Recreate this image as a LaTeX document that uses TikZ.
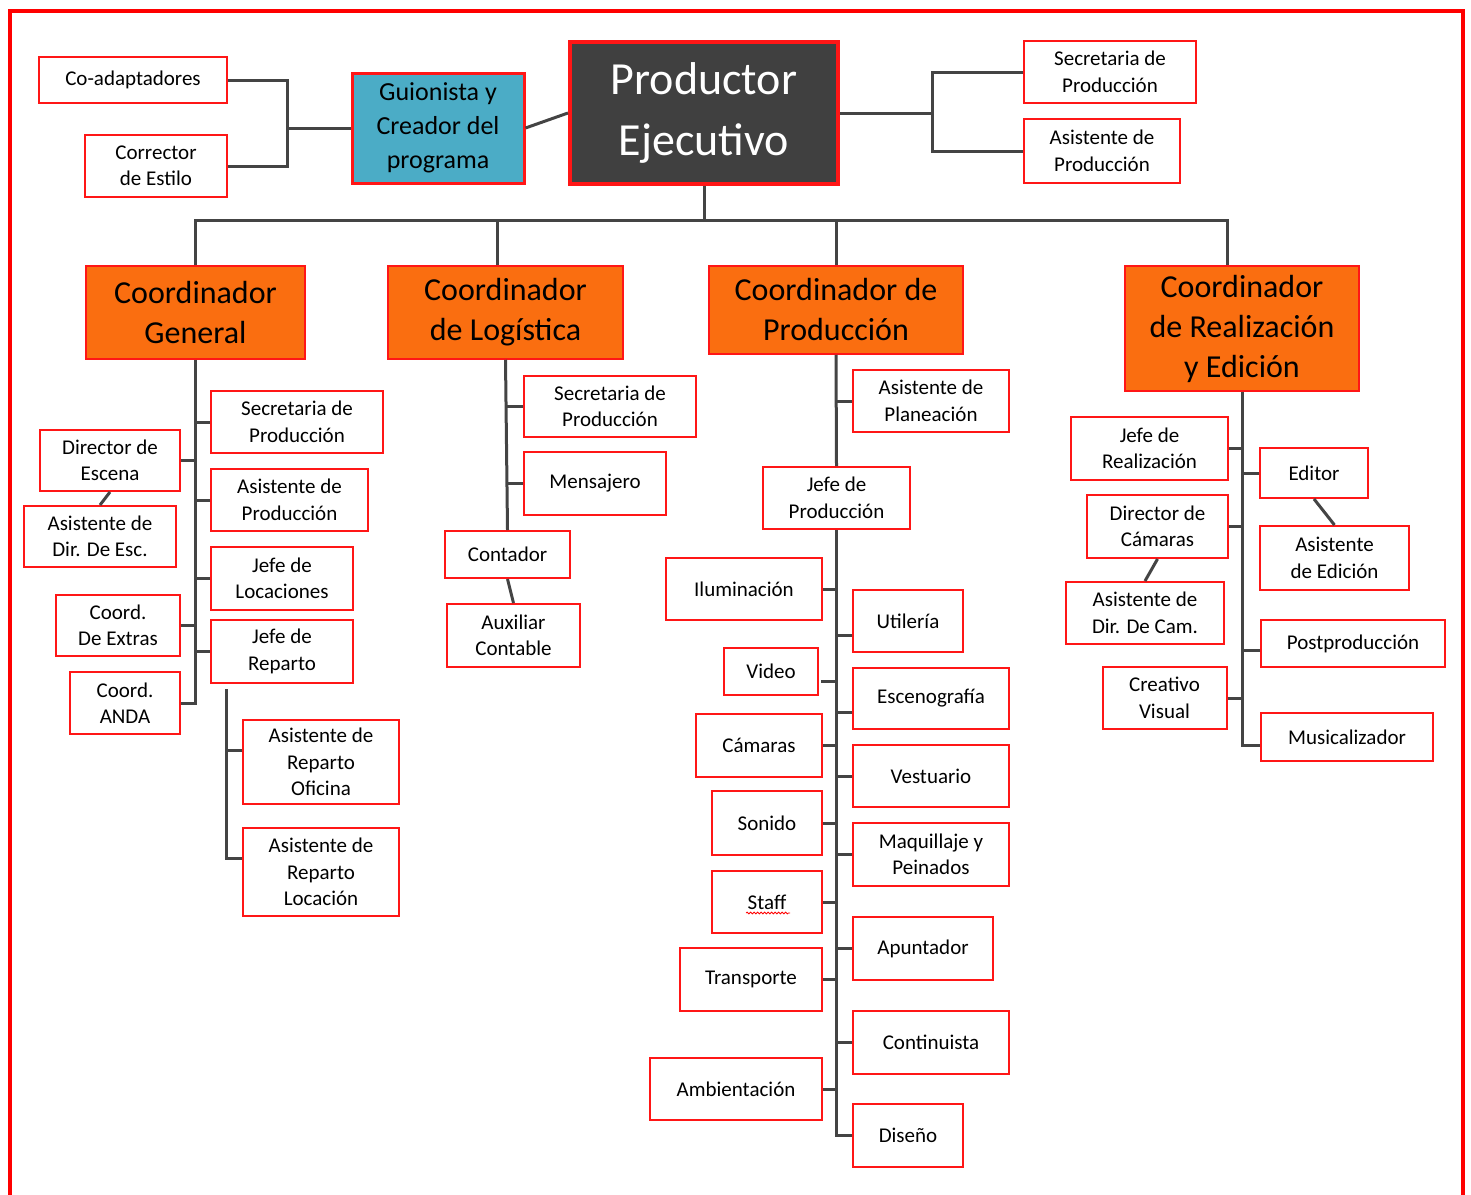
\documentclass[tikz,border=0pt]{standalone}
\usepackage{fontspec}
\setmainfont{Carlito}
\usepackage{xcolor}
\usetikzlibrary{calc}
\usetikzlibrary{decorations.pathmorphing}

\definecolor{boxred}{RGB}{255,22,22}
\definecolor{coordorange}{RGB}{250,110,16}
\definecolor{guiteal}{RGB}{75,172,198}
\definecolor{prodgray}{RGB}{64,64,64}
\definecolor{linkgray}{RGB}{68,68,68}

\tikzset{
  box/.style={draw=boxred, line width=2pt, fill=white, align=center, inner sep=0pt,
    font=\fontsize{21}{26.5}\selectfont},
  coordbox/.style={draw=boxred, line width=1.5pt, fill=coordorange, align=center, inner sep=0pt,
    font=\fontsize{32}{40}\selectfont},
  guibox/.style={draw=boxred, line width=3pt, fill=guiteal, align=center, inner sep=0pt,
    font=\fontsize{26}{34}\selectfont},
  prodbox/.style={draw=boxred, line width=4pt, fill=prodgray, text=white, align=center, inner sep=0pt,
    font=\fontsize{46}{61}\selectfont},
  link/.style={draw=linkgray, line width=3pt},
}

\begin{document}
\begin{tikzpicture}[x=1pt,y=1pt,yscale=-1,xscale=1]
\useasboundingbox (0,0) rectangle (1471,1194);

% Top row
\node[box, minimum width=188, minimum height=46] (coad) at (133,80) {Co-adaptadores};
\node[box, minimum width=142, minimum height=62] (corr) at (156,166) {Corrector\\de Estilo};
\node[guibox, minimum width=172, minimum height=110] (gui) at (438,128) {Guionista y\\Creador del\\programa};
\node[prodbox, minimum width=268, minimum height=142] (pe) at (704,113) {Productor\\Ejecutivo};
\node[box, minimum width=172, minimum height=62] (spt) at (1110,72) {Secretaria de\\Producción};
\node[box, minimum width=156, minimum height=64] (apt) at (1102,151) {Asistente de\\Producción};

% Coordinadores
\node[coordbox, minimum width=219, minimum height=93] (cg) at (195.5,312.5) {Coordinador\\General};
\node[coordbox, minimum width=235, minimum height=93] (cl) at (505.5,312.5) {Coordinador\\de Logística};
\node[coordbox, minimum width=254, minimum height=88] (cp) at (836,310) {Coordinador de\\Producción};
\node[coordbox, minimum width=234, minimum height=125] (cr) at (1242,328.5) {Coordinador\\de Realización\\y Edición};

% Coordinador General
\node[box, minimum width=172, minimum height=62] (g1) at (297,422) {Secretaria de\\Producción};
\node[box, minimum width=157, minimum height=62] (g2) at (289.5,500) {Asistente de\\Producción};
\node[box, minimum width=142, minimum height=63] (g3) at (282,578.5) {Jefe de\\Locaciones};
\node[box, minimum width=142, minimum height=63] (g4) at (282,651.5) {Jefe de\\Reparto};
\node[box, minimum width=140, minimum height=61] (g5) at (110,460.5) {Director de\\Escena};
\node[box, minimum width=152, minimum height=61] (g6) at (100,536.5) {Asistente de\\Dir. De Esc.};
\node[box, minimum width=124, minimum height=61] (g7) at (118,625.5) {Coord.\\De Extras};
\node[box, minimum width=110, minimum height=62] (g8) at (125,703) {Coord.\\ANDA};
\node[box, minimum width=156, minimum height=84] (g9) at (321,762) {Asistente de\\Reparto\\Oficina};
\node[box, minimum width=156, minimum height=88] (g10) at (321,872) {Asistente de\\Reparto\\Locación};

% Coordinador de Logistica
\node[box, minimum width=172, minimum height=61] (l1) at (610,406.5) {Secretaria de\\Producción};
\node[box, minimum width=142, minimum height=63] (l2) at (595,483.5) {Mensajero};
\node[box, minimum width=125, minimum height=47] (l3) at (507.5,554.5) {Contador};
\node[box, minimum width=133, minimum height=63] (l4) at (513.5,635.5) {Auxiliar\\Contable};

% Coordinador de Produccion
\node[box, minimum width=156, minimum height=62] (p1) at (931,401) {Asistente de\\Planeación};
\node[box, minimum width=147, minimum height=62] (p2) at (836.5,498) {Jefe de\\Producción};
\node[box, minimum width=156, minimum height=62] (p3) at (744,589) {Iluminación};
\node[box, minimum width=94, minimum height=47] (p4) at (771,671.5) {Video};
\node[box, minimum width=126, minimum height=63] (p5) at (759,745.5) {Cámaras};
\node[box, minimum width=110, minimum height=64] (p6) at (767,823) {Sonido};
\node[box, minimum width=110, minimum height=62] (p7) at (767,902) {Staff};
\node[box, minimum width=142, minimum height=63] (p8) at (751,979.5) {Transporte};
\node[box, minimum width=172, minimum height=62] (p9) at (736,1089) {Ambientación};
\node[box, minimum width=110, minimum height=62] (p10) at (908,621) {Utilería};
\node[box, minimum width=156, minimum height=61] (p11) at (931,698.5) {Escenografía};
\node[box, minimum width=156, minimum height=62] (p12) at (931,776) {Vestuario};
\node[box, minimum width=156, minimum height=63] (p13) at (931,854.5) {Maquillaje y\\Peinados};
\node[box, minimum width=140, minimum height=63] (p14) at (923,948.5) {Apuntador};
\node[box, minimum width=156, minimum height=63] (p15) at (931,1042.5) {Continuista};
\node[box, minimum width=110, minimum height=63] (p16) at (908,1135.5) {Diseño};

% Coordinador de Realizacion y Edicion
\node[box, minimum width=157, minimum height=63] (r1) at (1149.5,448.5) {Jefe de\\Realización};
\node[box, minimum width=141, minimum height=63] (r2) at (1157.5,526.5) {Director de\\Cámaras};
\node[box, minimum width=158, minimum height=62] (r3) at (1145,613) {Asistente de\\Dir. De Cam.};
\node[box, minimum width=124, minimum height=62] (r4) at (1164.5,698) {Creativo\\Visual};
\node[box, minimum width=108, minimum height=50] (r5) at (1314,473) {Editor};
\node[box, minimum width=149, minimum height=64] (r6) at (1334.5,558) {Asistente\\de Edición};
\node[box, minimum width=184, minimum height=47] (r7) at (1353,643.5) {Postproducción};
\node[box, minimum width=172, minimum height=48] (r8) at (1347,737) {Musicalizador};

% spell check mark
\draw[red, line width=0.8pt, decorate, decoration={snake, amplitude=0.9pt, segment length=3.5pt}]
  ($(p7.center)+(-21,11)$) -- ($(p7.center)+(23,11)$);

% Connectors, top
\coordinate (ja) at ($(gui.west)+(-63,0)$);
\draw[link] (coad.east) -| (ja) |- (corr.east);
\draw[link] (ja) -- (gui.west);
\draw[link] (gui.east) -- (pe.west);
\coordinate (jr) at ($(pe.east)+(92,0)$);
\draw[link] (pe.east) -- (jr);
\draw[link] (spt.west) -| (jr) |- (apt.west);
\coordinate (bus) at ($(pe.south)+(0,34)$);
\coordinate (dl) at ($(cl.north)+(-8,0)$);
\coordinate (dr) at ($(cr.north)+(-15,0)$);
\draw[link] (pe.south) -- (bus);
\draw[link] (cg.north) |- (bus) -| (dr);
\draw[link] (dl) -- (dl |- bus);
\draw[link] (cp.north) -- (cp.north |- bus);

% Connectors, General
\draw[link] (cg.south) |- (g8.east);
\foreach \n in {g1,g2,g3,g4}
  \draw[link] (\n.west) -- (\n.west -| cg.south);
\foreach \n in {g5,g7}
  \draw[link] (\n.east) -- (\n.east -| cg.south);
\draw[link] (g5.south) -- (g6.north);
\coordinate (rp) at ($(g4.south west)+(16,5)$);
\coordinate (o9) at ($(g9.west)+(0,-12)$);
\coordinate (o10) at ($(g10.west)+(0,-14)$);
\draw[link] (rp) |- (o10);
\draw[link] (o9) -- (o9 -| rp);

% Connectors, Logistica
\draw[link] (cl.south) -- (l3.north);
\foreach \n in {l1,l2}
  \draw[link] (\n.west) -- (\n.west -| cl.south);
\draw[link] (l3.south) -- (l4.north);

% Connectors, Produccion
\draw[link] (cp.south) -- (p2.north);
\draw[link] (p1.west) -- (p1.west -| cp.south);
\draw[link] (p2.south) |- (p16.west);
\foreach \n in {p3,p5,p6,p7,p8,p9}
  \draw[link] (\n.east) -- (\n.east -| p2.south);
\foreach \n in {p12,p13,p14,p15}
  \draw[link] (\n.west) -- (\n.west -| p2.south);
\coordinate (o4) at ($(p4.east)+(2,10)$);
\coordinate (o10p) at ($(p10.west)+(0,14)$);
\coordinate (o11) at ($(p11.west)+(0,14)$);
\draw[link] (o4) -- (o4 -| p2.south);
\draw[link] (o10p) -- (o10p -| p2.south);
\draw[link] (o11) -- (o11 -| p2.south);

% Connectors, Realizacion
\coordinate (o8) at ($(r8.west)+(0,8)$);
\coordinate (o7) at ($(r7.west)+(0,7)$);
\draw[link] (cr.south) |- (o8);
\foreach \n in {r1,r2,r4}
  \draw[link] (\n.east) -- (\n.east -| cr.south);
\draw[link] (r5.west) -- (r5.west -| cr.south);
\draw[link] (o7) -- (o7 -| cr.south);
\draw[link] (r2.south) -- (r3.north);
\draw[link] (r5.south) -- (r6.north);

% Outer frame
\draw[red, line width=4pt] (9.5,1215) -- (9.5,11) -- (1463,11) -- (1463,1215);

\end{tikzpicture}
\end{document}
